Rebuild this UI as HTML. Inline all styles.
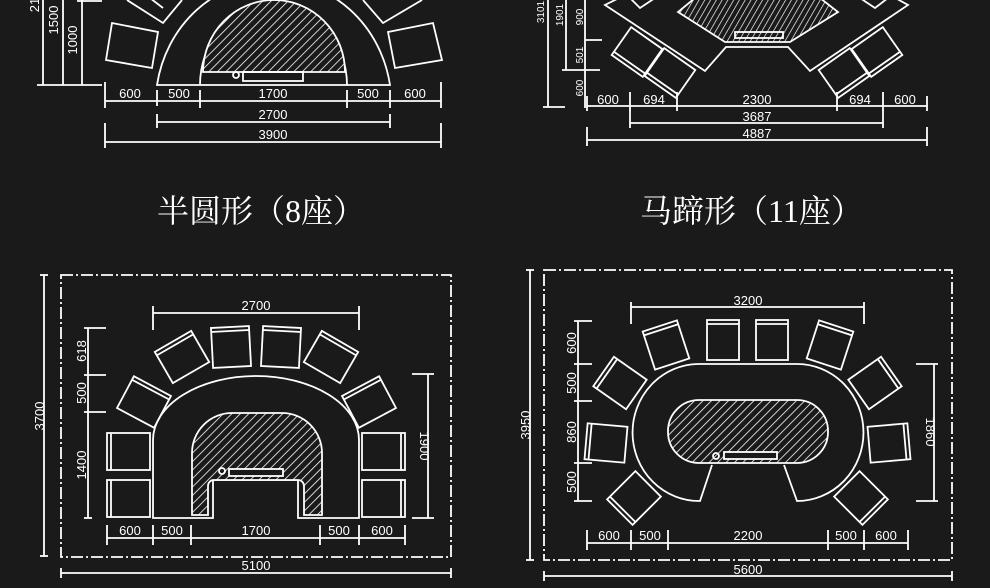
<!DOCTYPE html>
<html><head><meta charset="utf-8"><style>
html,body{margin:0;padding:0;background:#1a1a1a;}
svg{display:block}
.t{font-family:"Liberation Sans","DejaVu Sans",sans-serif;font-size:13px;fill:#fff;text-anchor:middle}
.h{font-family:"Liberation Serif","Noto Serif CJK SC",serif;font-size:32px;fill:#fff}
</style></head><body>
<svg width="990" height="588" viewBox="0 0 990 588" xmlns="http://www.w3.org/2000/svg">
<defs>
<pattern id="hp" width="6" height="6" patternUnits="userSpaceOnUse" patternTransform="rotate(45)">
<rect width="6" height="6" fill="#1a1a1a"/><line x1="0" y1="0" x2="0" y2="6" stroke="#fff" stroke-width="1.6"/>
</pattern>
<pattern id="hv" width="5" height="5" patternUnits="userSpaceOnUse" patternTransform="rotate(30)">
<rect width="5" height="5" fill="#1a1a1a"/><line x1="0" y1="0" x2="0" y2="5" stroke="#fff" stroke-width="1.4"/>
</pattern>
</defs>
<rect width="990" height="588" fill="#1a1a1a"/>
<g stroke="#fff" stroke-width="1.8" fill="none">
<!-- ===== top-left semicircle ===== -->
<path d="M157 85 A118 125 0 0 1 390 85 Z"/>
<path d="M200 85 A73 80 0 0 1 347 85"/>
<path d="M203 72 A71 72 0 0 1 345 72 Z" fill="url(#hp)"/>
<rect x="243" y="72" width="60" height="9"/>
<circle cx="236" cy="75" r="3"/>
<polygon points="112,23 158,32 152,68 106,60"/>
<polygon points="388,32 433,23 442,60 395,68"/>
<polyline points="127,0 163,23 182,0"/>
<polyline points="363,0 383,23 422,0"/>
<line x1="150" y1="-2" x2="163" y2="8"/>
<!-- dims -->
<line x1="43" y1="0" x2="43" y2="85"/><line x1="63" y1="0" x2="63" y2="85"/><line x1="82" y1="0" x2="82" y2="85"/>
<line x1="37" y1="85" x2="102" y2="85"/><line x1="77" y1="1" x2="102" y2="1"/>
<line x1="105" y1="101" x2="441" y2="101"/>
<line x1="105" y1="82" x2="105" y2="108"/><line x1="157" y1="90" x2="157" y2="106"/><line x1="200" y1="90" x2="200" y2="108"/><line x1="347" y1="90" x2="347" y2="108"/><line x1="390" y1="90" x2="390" y2="108"/><line x1="441" y1="82" x2="441" y2="108"/>
<line x1="157" y1="122" x2="390" y2="122"/><line x1="157" y1="114" x2="157" y2="128"/><line x1="390" y1="114" x2="390" y2="128"/>
<line x1="105" y1="142" x2="441" y2="142"/><line x1="105" y1="123" x2="105" y2="148"/><line x1="441" y1="123" x2="441" y2="148"/>
<!-- ===== top-right horseshoe ===== -->
<polygon points="605,5 705,71 726,47 788,47 810,71 908,5 890,-5 625,-5"/>
<polygon points="678,12 725,42 790,42 838,12 820,-2 695,-2" fill="url(#hv)"/>
<rect x="735" y="32" width="48" height="6"/>
<g transform="translate(637,52) rotate(35)"><rect x="-19" y="-17" width="38" height="34"/><line x1="-19" y1="13" x2="19" y2="13"/></g>
<g transform="translate(670,73) rotate(35)"><rect x="-19" y="-17" width="38" height="34"/><line x1="-19" y1="13" x2="19" y2="13"/></g>
<g transform="translate(877,52) rotate(-35)"><rect x="-19" y="-17" width="38" height="34"/><line x1="-19" y1="13" x2="19" y2="13"/></g>
<g transform="translate(844,73) rotate(-35)"><rect x="-19" y="-17" width="38" height="34"/><line x1="-19" y1="13" x2="19" y2="13"/></g>
<polyline points="630,-2 640,8 655,-2"/><polyline points="860,-2 875,8 888,-2"/>
<line x1="548" y1="0" x2="548" y2="107"/><line x1="543" y1="107" x2="565" y2="107"/>
<line x1="566" y1="0" x2="566" y2="70"/><line x1="562" y1="70" x2="600" y2="70"/>
<line x1="585" y1="0" x2="585" y2="108"/><line x1="585" y1="40" x2="602" y2="40"/>
<line x1="587" y1="106" x2="927" y2="106"/>
<line x1="587" y1="96" x2="587" y2="111"/><line x1="630" y1="92" x2="630" y2="111"/><line x1="677" y1="92" x2="677" y2="111"/><line x1="837" y1="92" x2="837" y2="111"/><line x1="883" y1="92" x2="883" y2="111"/><line x1="927" y1="96" x2="927" y2="111"/>
<line x1="630" y1="123" x2="883" y2="123"/><line x1="630" y1="110" x2="630" y2="128"/><line x1="883" y1="110" x2="883" y2="128"/>
<line x1="587" y1="140" x2="927" y2="140"/><line x1="587" y1="127" x2="587" y2="146"/><line x1="927" y1="127" x2="927" y2="146"/>
<!-- ===== bottom-left ===== -->
<rect x="61" y="275" width="390" height="282" stroke-dasharray="12,3,2,3"/>
<line x1="44" y1="275" x2="44" y2="556"/><line x1="40" y1="275" x2="48" y2="275"/><line x1="40" y1="556" x2="48" y2="556"/>
<line x1="61" y1="573" x2="451" y2="573"/><line x1="61" y1="568" x2="61" y2="578"/><line x1="451" y1="568" x2="451" y2="578"/>
<line x1="153" y1="313" x2="359" y2="313"/><line x1="153" y1="306" x2="153" y2="330"/><line x1="359" y1="306" x2="359" y2="330"/>
<line x1="88" y1="328" x2="88" y2="518"/>
<line x1="84" y1="328" x2="106" y2="328"/><line x1="84" y1="375" x2="106" y2="375"/><line x1="84" y1="412" x2="106" y2="412"/><line x1="84" y1="518" x2="92" y2="518"/>
<line x1="428" y1="374" x2="428" y2="518"/><line x1="412" y1="374" x2="434" y2="374"/><line x1="412" y1="518" x2="434" y2="518"/>
<line x1="107" y1="538" x2="405" y2="538"/>
<line x1="107" y1="525" x2="107" y2="545"/><line x1="153" y1="525" x2="153" y2="545"/><line x1="191" y1="525" x2="191" y2="545"/><line x1="320" y1="525" x2="320" y2="545"/><line x1="359" y1="525" x2="359" y2="545"/><line x1="405" y1="525" x2="405" y2="545"/>
<path d="M153 518 L153 440 A103 64 0 0 1 359 440 L359 518 L298 518 L298 480 L213 480 L213 518 Z"/>
<path d="M192 515 L192 453 A40 40 0 0 1 232 413 L282 413 A40 40 0 0 1 322 453 L322 515 L304 515 L304 486 A6 6 0 0 0 298 480 L213 480 A6 6 0 0 0 208 486 L208 515 Z" fill="url(#hp)"/>
<rect x="229" y="469" width="54" height="7" fill="#1a1a1a"/>
<circle cx="222" cy="471" r="3"/>
<rect x="107" y="433" width="43" height="37"/><line x1="111" y1="433" x2="111" y2="470"/>
<rect x="107" y="480" width="43" height="37"/><line x1="111" y1="480" x2="111" y2="517"/>
<rect x="362" y="433" width="43" height="37"/><line x1="401" y1="433" x2="401" y2="470"/>
<rect x="362" y="480" width="43" height="37"/><line x1="401" y1="480" x2="401" y2="517"/>
<g transform="translate(144,402) rotate(28)"><rect x="-21" y="-18" width="42" height="36"/><line x1="-21" y1="-14" x2="21" y2="-14"/></g>
<g transform="translate(182,357) rotate(-30)"><rect x="-21" y="-18" width="42" height="36"/><line x1="-21" y1="-14" x2="21" y2="-14"/></g>
<g transform="translate(231,347) rotate(-3)"><rect x="-19" y="-20" width="38" height="40"/><line x1="-19" y1="-16" x2="19" y2="-16"/></g>
<g transform="translate(281,347) rotate(3)"><rect x="-19" y="-20" width="38" height="40"/><line x1="-19" y1="-16" x2="19" y2="-16"/></g>
<g transform="translate(331,357) rotate(30)"><rect x="-21" y="-18" width="42" height="36"/><line x1="-21" y1="-14" x2="21" y2="-14"/></g>
<g transform="translate(369,402) rotate(-28)"><rect x="-21" y="-18" width="42" height="36"/><line x1="-21" y1="-14" x2="21" y2="-14"/></g>
<!-- ===== bottom-right ===== -->
<rect x="544" y="270" width="408" height="290" stroke-dasharray="12,3,2,3"/>
<line x1="530" y1="270" x2="530" y2="560"/><line x1="526" y1="270" x2="534" y2="270"/><line x1="526" y1="560" x2="534" y2="560"/>
<line x1="544" y1="576" x2="952" y2="576"/><line x1="544" y1="571" x2="544" y2="581"/><line x1="952" y1="571" x2="952" y2="581"/>
<line x1="631" y1="307" x2="864" y2="307"/><line x1="631" y1="302" x2="631" y2="324"/><line x1="864" y1="302" x2="864" y2="324"/>
<line x1="578" y1="321" x2="578" y2="501"/>
<line x1="574" y1="321" x2="592" y2="321"/><line x1="574" y1="364" x2="592" y2="364"/><line x1="574" y1="401" x2="592" y2="401"/><line x1="574" y1="463" x2="592" y2="463"/><line x1="574" y1="501" x2="592" y2="501"/>
<line x1="934" y1="364" x2="934" y2="501"/><line x1="916" y1="364" x2="938" y2="364"/><line x1="916" y1="501" x2="938" y2="501"/>
<line x1="587" y1="543" x2="908" y2="543"/>
<line x1="587" y1="530" x2="587" y2="550"/><line x1="631" y1="530" x2="631" y2="550"/><line x1="668" y1="530" x2="668" y2="550"/><line x1="828" y1="530" x2="828" y2="550"/><line x1="864" y1="530" x2="864" y2="550"/><line x1="908" y1="530" x2="908" y2="550"/>
<path d="M712 465 L700 501 A66 68 0 0 1 698 364 L797 364 A66 68 0 0 1 797 501 L784 465"/>
<rect x="668" y="400" width="160" height="63" rx="31" fill="url(#hp)"/>
<rect x="724" y="452" width="53" height="7" fill="#1a1a1a"/>
<circle cx="716" cy="456" r="3"/>
<g transform="translate(723,340)"><rect x="-16" y="-20" width="32" height="40"/><line x1="-16" y1="-16" x2="16" y2="-16"/></g>
<g transform="translate(772,340)"><rect x="-16" y="-20" width="32" height="40"/><line x1="-16" y1="-16" x2="16" y2="-16"/></g>
<g transform="translate(666,345) rotate(-18)"><rect x="-18" y="-20" width="36" height="40"/><line x1="-18" y1="-16" x2="18" y2="-16"/></g>
<g transform="translate(830,345) rotate(18)"><rect x="-18" y="-20" width="36" height="40"/><line x1="-18" y1="-16" x2="18" y2="-16"/></g>
<g transform="translate(620,383) rotate(-55)"><rect x="-18" y="-20" width="36" height="40"/><line x1="-18" y1="-16" x2="18" y2="-16"/></g>
<g transform="translate(875,383) rotate(55)"><rect x="-18" y="-20" width="36" height="40"/><line x1="-18" y1="-16" x2="18" y2="-16"/></g>
<g transform="translate(606,443) rotate(-85)"><rect x="-18" y="-20" width="36" height="40"/><line x1="-18" y1="-16" x2="18" y2="-16"/></g>
<g transform="translate(889,443) rotate(85)"><rect x="-18" y="-20" width="36" height="40"/><line x1="-18" y1="-16" x2="18" y2="-16"/></g>
<g transform="translate(634,498) rotate(-135)"><rect x="-18" y="-20" width="36" height="40"/><line x1="-18" y1="-16" x2="18" y2="-16"/></g>
<g transform="translate(861,498) rotate(135)"><rect x="-18" y="-20" width="36" height="40"/><line x1="-18" y1="-16" x2="18" y2="-16"/></g>
</g>
<!-- texts -->
<g class="t">
<text x="130" y="98">600</text><text x="179" y="98">500</text><text x="273" y="98">1700</text><text x="368" y="98">500</text><text x="415" y="98">600</text>
<text x="273" y="119">2700</text><text x="273" y="139">3900</text>
<text transform="translate(58,20) rotate(-90)">1500</text>
<text transform="translate(77,40) rotate(-90)">1000</text>
<text transform="translate(39,5) rotate(-90)">21</text>
<text x="608" y="104">600</text><text x="654" y="104">694</text><text x="757" y="104">2300</text><text x="860" y="104">694</text><text x="905" y="104">600</text>
<text x="757" y="121">3687</text><text x="757" y="138">4887</text>
<text transform="translate(544,12) rotate(-90)" style="font-size:10px">3101</text>
<text transform="translate(563,15) rotate(-90)" style="font-size:10px">1901</text>
<text transform="translate(583,17) rotate(-90)" style="font-size:10px">900</text>
<text transform="translate(583,55) rotate(-90)" style="font-size:10px">501</text>
<text transform="translate(583,88) rotate(-90)" style="font-size:10px">600</text>
<text x="256" y="310">2700</text>
<text transform="translate(86,351) rotate(-90)">618</text>
<text transform="translate(86,393) rotate(-90)">500</text>
<text transform="translate(86,465) rotate(-90)">1400</text>
<text transform="translate(420,446) rotate(90)">1900</text>
<text transform="translate(44,416) rotate(-90)">3700</text>
<text x="130" y="535">600</text><text x="172" y="535">500</text><text x="256" y="535">1700</text><text x="339" y="535">500</text><text x="382" y="535">600</text>
<text x="256" y="570">5100</text>
<text x="748" y="305">3200</text>
<text transform="translate(576,343) rotate(-90)">600</text>
<text transform="translate(576,383) rotate(-90)">500</text>
<text transform="translate(576,432) rotate(-90)">860</text>
<text transform="translate(576,482) rotate(-90)">500</text>
<text transform="translate(926,432) rotate(90)">1860</text>
<text transform="translate(530,425) rotate(-90)">3950</text>
<text x="609" y="540">600</text><text x="650" y="540">500</text><text x="748" y="540">2200</text><text x="846" y="540">500</text><text x="886" y="540">600</text>
<text x="748" y="574">5600</text>
</g>
<text class="h" x="157" y="222">半圆形（8座）</text>
<text class="h" x="640" y="222">马蹄形（11座）</text>
</svg>
</body></html>
